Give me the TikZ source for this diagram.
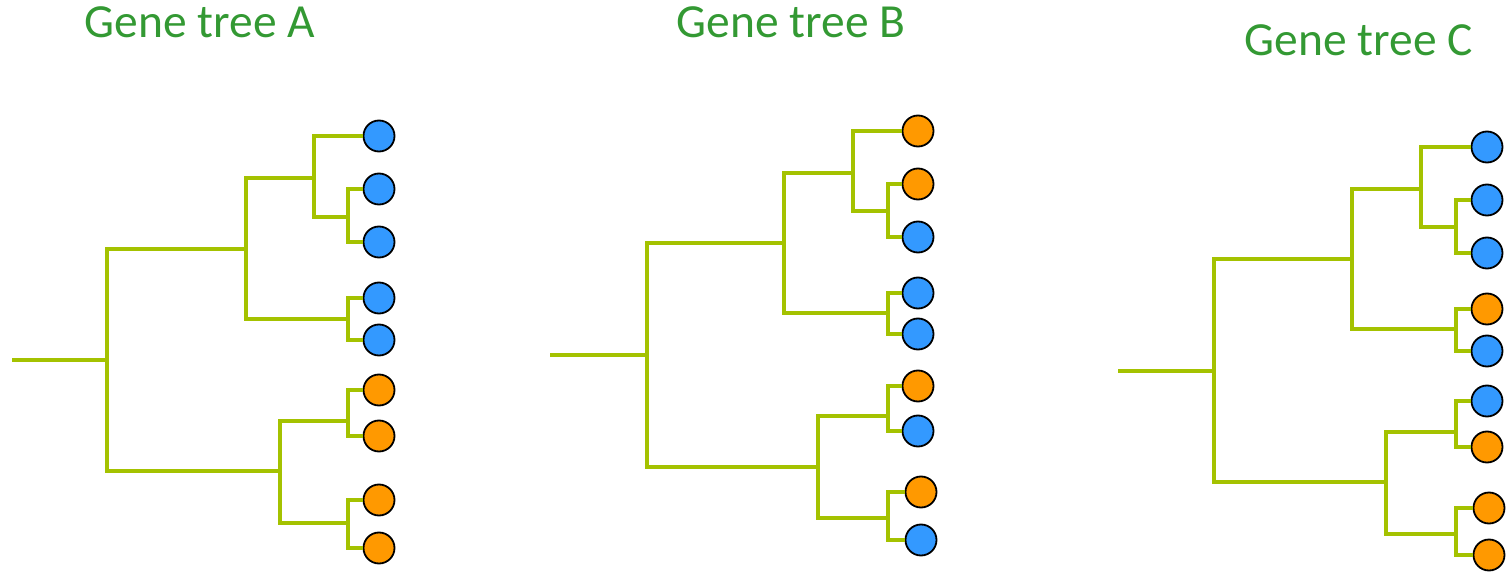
\documentclass[tikz,border=0pt]{standalone}
\usepackage{fontspec}
\setmainfont{Carlito}
\definecolor{treegreen}{RGB}{164,194,0}
\definecolor{titlegreen}{RGB}{51,153,51}
\definecolor{leafblue}{RGB}{51,153,255}
\definecolor{leaforange}{RGB}{255,153,0}
\begin{document}
\begin{tikzpicture}[x=1pt,y=-1pt,
  br/.style={draw=treegreen,line width=4.5pt},
  leaf/.style={circle,draw=black,line width=1.8pt,minimum size=31pt,inner sep=0pt},
  bl/.style={leaf,fill=leafblue},
  or/.style={leaf,fill=leaforange},
  title/.style={text=titlegreen,anchor=base,font=\fontsize{47.5}{56}\selectfont,inner sep=0pt}]
\useasboundingbox (0,0) rectangle (1508,572);

% titles
\node[title] (tA) at (200,38) {Gene tree A};
\node[title] (tB) at (791,38) {Gene tree B};
\node[title] (tC) at (1359,56) {Gene tree C};

% ---------------- Tree A
\coordinate (Ar) at (12,360);
\coordinate (A0) at (107,360);
\coordinate (A1) at (246,249);
\coordinate (A11) at (314,178);
\coordinate (A111) at (348,217);
\coordinate (A12) at (348,319);
\coordinate (A2) at (280,471);
\coordinate (A21) at (348,421);
\coordinate (A22) at (348,523);
\node[bl] (a1) at (379,136) {};
\node[bl] (a2) at (379,189) {};
\node[bl] (a3) at (379,242) {};
\node[bl] (a4) at (379,298) {};
\node[bl] (a5) at (379,340) {};
\node[or] (a6) at (379,390) {};
\node[or] (a7) at (379,436) {};
\node[or] (a8) at (379,500) {};
\node[or] (a9) at (379,548) {};
\draw[br] (Ar) -- (A0);
\draw[br] (A1) -| (A0) |- (A2);
\draw[br] (A11) -| (A1) |- (A12);
\draw[br] (a1.west) -| (A11) |- (A111);
\draw[br] (a2.west) -| (A111) |- (a3.west);
\draw[br] (a4.west) -| (A12) |- (a5.west);
\draw[br] (A21) -| (A2) |- (A22);
\draw[br] (a6.west) -| (A21) |- (a7.west);
\draw[br] (a8.west) -| (A22) |- (a9.west);

% ---------------- Tree B
\coordinate (Br) at (550,355);
\coordinate (B0) at (647,355);
\coordinate (B1) at (784,243);
\coordinate (B11) at (853,173);
\coordinate (B111) at (888,211);
\coordinate (B12) at (888,313);
\coordinate (B2) at (818,467);
\coordinate (B21) at (888,416);
\coordinate (B22) at (888,518);
\node[or] (b1) at (918,131) {};
\node[or] (b2) at (918,184) {};
\node[bl] (b3) at (918,237) {};
\node[bl] (b4) at (918,293) {};
\node[bl] (b5) at (918,334) {};
\node[or] (b6) at (918,386) {};
\node[bl] (b7) at (918,431) {};
\node[or] (b8) at (921,492) {};
\node[bl] (b9) at (921,540) {};
\draw[br] (Br) -- (B0);
\draw[br] (B1) -| (B0) |- (B2);
\draw[br] (B11) -| (B1) |- (B12);
\draw[br] (b1.west) -| (B11) |- (B111);
\draw[br] (b2.west) -| (B111) |- (b3.west);
\draw[br] (b4.west) -| (B12) |- (b5.west);
\draw[br] (B21) -| (B2) |- (B22);
\draw[br] (b6.west) -| (B21) |- (b7.west);
\draw[br] (b8.west) -| (B22) |- (b9.west);

% ---------------- Tree C
\coordinate (Cr) at (1118,371);
\coordinate (C0) at (1214,371);
\coordinate (C1) at (1352,259);
\coordinate (C11) at (1421,189);
\coordinate (C111) at (1456,227);
\coordinate (C12) at (1456,329);
\coordinate (C2) at (1386,482);
\coordinate (C21) at (1456,432);
\coordinate (C22) at (1456,534);
\node[bl] (c1) at (1487,147) {};
\node[bl] (c2) at (1487,200) {};
\node[bl] (c3) at (1487,253) {};
\node[or] (c4) at (1487,309) {};
\node[bl] (c5) at (1487,351) {};
\node[bl] (c6) at (1487,401) {};
\node[or] (c7) at (1487,447) {};
\node[or] (c8) at (1489,508) {};
\node[or] (c9) at (1489,555) {};
\draw[br] (Cr) -- (C0);
\draw[br] (C1) -| (C0) |- (C2);
\draw[br] (C11) -| (C1) |- (C12);
\draw[br] (c1.west) -| (C11) |- (C111);
\draw[br] (c2.west) -| (C111) |- (c3.west);
\draw[br] (c4.west) -| (C12) |- (c5.west);
\draw[br] (C21) -| (C2) |- (C22);
\draw[br] (c6.west) -| (C21) |- (c7.west);
\draw[br] (c8.west) -| (C22) |- (c9.west);
\end{tikzpicture}
\end{document}
